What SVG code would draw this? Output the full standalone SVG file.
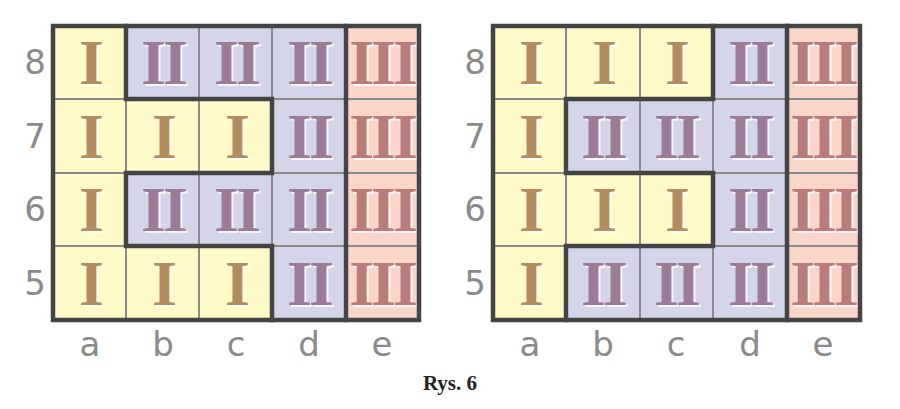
<svg xmlns="http://www.w3.org/2000/svg" width="900" height="409" viewBox="0 0 900 409">
<style>
.y{fill:#fffac8}.p{fill:#d5d5ea}.r{fill:#fad6ca}
.thin{stroke:#8a8a8a;stroke-width:2;fill:none}
.thick{stroke:#444;stroke-width:4.5;fill:none;stroke-linecap:square}
.n{font-family:"Liberation Serif",serif;font-weight:bold;font-size:64px;text-anchor:middle;letter-spacing:-3px}
.s{fill:#fff;opacity:.8}
.nI{fill:#b38c5f}.nII{fill:#9b7b98}.nIII{fill:#b97c79}
.lab{font-family:"DejaVu Sans",sans-serif;font-size:34px;fill:#8a8a8a;text-anchor:middle}
.cap{font-family:"Liberation Serif",serif;font-weight:bold;font-size:21px;fill:#222;text-anchor:middle}
</style>
<defs>
<g id="g1"><text class="n s" x="2" y="24">I</text><text class="n nI" y="22">I</text></g>
<g id="g2"><text class="n s" x="2" y="24">II</text><text class="n nII" y="22">II</text></g>
<g id="g3"><text class="n s" x="2" y="24">III</text><text class="n nIII" y="22">III</text></g>
</defs>
<g id="board-left">
<rect class="y" x="53" y="26" width="73" height="294"/>
<rect class="p" x="126" y="26" width="220" height="294"/>
<rect class="y" x="126" y="99" width="146" height="74"/>
<rect class="y" x="126" y="246" width="146" height="74"/>
<rect class="r" x="346" y="26" width="73" height="294"/>
<path class="thin" d="M126 26V320M199 26V320M272 26V320M346 26V320M53 99H419M53 173H419M53 246H419"/>
<use href="#g1" x="90" y="62"/><use href="#g2" x="163" y="62"/><use href="#g2" x="236" y="62"/><use href="#g2" x="309" y="62"/><use href="#g3" x="382" y="62"/>
<use href="#g1" x="90" y="136"/><use href="#g1" x="163" y="136"/><use href="#g1" x="236" y="136"/><use href="#g2" x="309" y="136"/><use href="#g3" x="382" y="136"/>
<use href="#g1" x="90" y="209"/><use href="#g2" x="163" y="209"/><use href="#g2" x="236" y="209"/><use href="#g2" x="309" y="209"/><use href="#g3" x="382" y="209"/>
<use href="#g1" x="90" y="283"/><use href="#g1" x="163" y="283"/><use href="#g1" x="236" y="283"/><use href="#g2" x="309" y="283"/><use href="#g3" x="382" y="283"/>
<path class="thick" d="M126 26V99H272V173H126V246H272V320M346 26V320"/>
<rect class="thick" x="53" y="26" width="366" height="294"/>
<text class="lab" x="35" y="74">8</text><text class="lab" x="35" y="148">7</text><text class="lab" x="35" y="221">6</text><text class="lab" x="35" y="295">5</text>
<text class="lab" x="90" y="356">a</text><text class="lab" x="163" y="356">b</text><text class="lab" x="236" y="356">c</text><text class="lab" x="309" y="356">d</text><text class="lab" x="382" y="356">e</text>
</g>
<g id="board-right">
<rect class="y" x="493" y="26" width="220" height="294"/>
<rect class="p" x="713" y="26" width="74" height="294"/>
<rect class="p" x="566" y="99" width="147" height="74"/>
<rect class="p" x="566" y="246" width="147" height="74"/>
<rect class="r" x="787" y="26" width="73" height="294"/>
<path class="thin" d="M566 26V320M640 26V320M713 26V320M787 26V320M493 99H860M493 173H860M493 246H860"/>
<use href="#g1" x="530" y="62"/><use href="#g1" x="603" y="62"/><use href="#g1" x="676" y="62"/><use href="#g2" x="750" y="62"/><use href="#g3" x="823" y="62"/>
<use href="#g1" x="530" y="136"/><use href="#g2" x="603" y="136"/><use href="#g2" x="676" y="136"/><use href="#g2" x="750" y="136"/><use href="#g3" x="823" y="136"/>
<use href="#g1" x="530" y="209"/><use href="#g1" x="603" y="209"/><use href="#g1" x="676" y="209"/><use href="#g2" x="750" y="209"/><use href="#g3" x="823" y="209"/>
<use href="#g1" x="530" y="283"/><use href="#g2" x="603" y="283"/><use href="#g2" x="676" y="283"/><use href="#g2" x="750" y="283"/><use href="#g3" x="823" y="283"/>
<path class="thick" d="M713 26V99H566V173H713V246H566V320M787 26V320"/>
<rect class="thick" x="493" y="26" width="367" height="294"/>
<text class="lab" x="475" y="74">8</text><text class="lab" x="475" y="148">7</text><text class="lab" x="475" y="221">6</text><text class="lab" x="475" y="295">5</text>
<text class="lab" x="530" y="356">a</text><text class="lab" x="603" y="356">b</text><text class="lab" x="676" y="356">c</text><text class="lab" x="750" y="356">d</text><text class="lab" x="823" y="356">e</text>
</g>
<text class="cap" x="450" y="390">Rys. 6</text>
</svg>
